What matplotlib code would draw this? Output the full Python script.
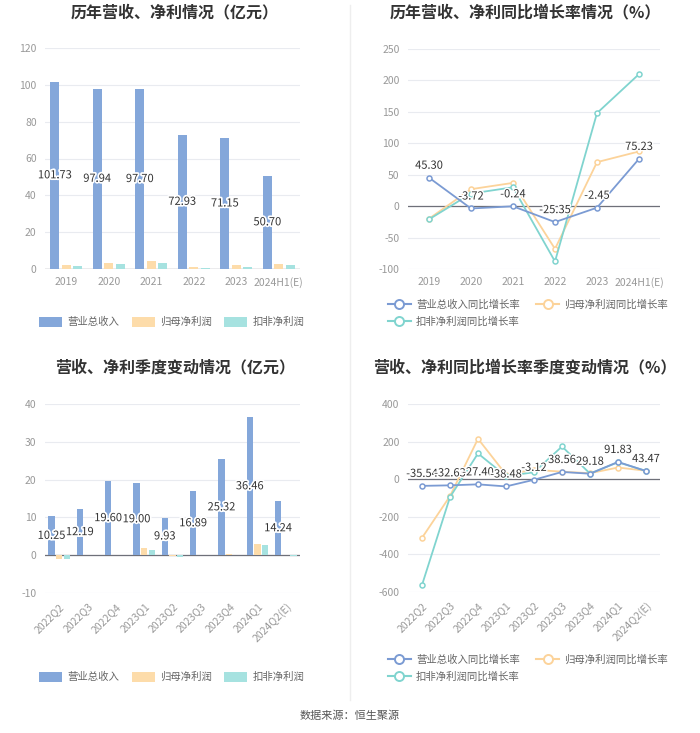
import numpy as np
import matplotlib.pyplot as plt
from matplotlib.lines import Line2D
from matplotlib.patches import Patch
import matplotlib.patheffects as pe

plt.rcParams['font.family'] = ['Noto Sans CJK SC', 'DejaVu Sans']
plt.rcParams['axes.unicode_minus'] = False

# 年度数据
years = ["2019", "2020", "2021", "2022", "2023", "2024H1(E)"]
rev_year = [101.73, 97.94, 97.70, 72.93, 71.15, 50.70]
np_year = [2.3, 3.0, 4.2, 1.2, 2.0, 2.9]
dnp_year = [1.9, 2.5, 3.2, 0.4, 1.1, 2.3]

rev_yoy = [45.30, -3.72, -0.24, -25.35, -2.45, 75.23]
np_yoy = [-20, 27, 37, -68, 70, 87]
dnp_yoy = [-21, 20, 30, -88, 148, 210]

# 季度数据
quarters = ["2022Q2", "2022Q3", "2022Q4", "2023Q1", "2023Q2", "2023Q3", "2023Q4", "2024Q1", "2024Q2(E)"]
rev_q = [10.25, 12.19, 19.60, 19.00, 9.93, 16.89, 25.32, 36.46, 14.24]
np_q = [-1.0, 0.05, 0.1, 2.0, -0.2, 0.05, 0.3, 3.0, 0.1]
dnp_q = [-0.9, 0.02, 0.1, 1.3, -0.6, 0.02, 0.1, 2.6, -0.3]

rev_q_yoy = [-35.54, -32.63, -27.40, -38.48, -3.12, 38.56, 29.18, 91.83, 43.47]
np_q_yoy = [-312, -90, 215, 25, 50, 40, 32, 62, 45]
dnp_q_yoy = [-563, -95, 137, 16, 37, 174, 30, 90, 44]

C_BAR = ["#84a7da", "#fddcaa", "#a6e2e0"]
C_LINE = ["#7b9bd3", "#fcd39a", "#80d4cf"]
GRID = "#e9ebf0"
TICK = "#999999"
AXIS = "#6e7079"

W, H = 700, 733
fig = plt.figure(figsize=(7, 7.33), dpi=100)


def add_ax(x0, x1, y0, y1):
    return fig.add_axes([x0 / W, 1 - y1 / H, (x1 - x0) / W, (y1 - y0) / H])


def style(ax, ylim, yticks, cats, rot=0):
    ax.set_ylim(*ylim)
    ax.set_yticks(yticks)
    ax.set_xlim(-0.5, len(cats) - 0.5)
    ax.set_xticks(range(len(cats)))
    for s in ax.spines.values():
        s.set_visible(False)
    ax.grid(axis="y", color=GRID, lw=0.8)
    ax.set_axisbelow(True)
    ax.axhline(0, color=AXIS, lw=0.9, zorder=1)
    ax.tick_params(length=0, labelsize=7.5, colors=TICK, pad=6)
    if rot:
        ax.set_xticklabels(cats, rotation=45, ha="right", rotation_mode="anchor")
    else:
        ax.set_xticklabels(cats)


def bar_chart(ax, cats, a, b, c):
    x = np.arange(len(cats))
    w, off = 0.22, 0.27
    ax.bar(x - off, a, w, color=C_BAR[0], zorder=2)
    ax.bar(x, b, w, color=C_BAR[1], zorder=2)
    ax.bar(x + off, c, w, color=C_BAR[2], zorder=2)
    for xi, v in zip(x, a):
        ax.text(xi - off, v / 2, f"{v:.2f}", ha="center", va="center", fontsize=8,
                color="#333333", zorder=5,
                path_effects=[pe.withStroke(linewidth=2.5, foreground="white")])


def line_chart(ax, cats, a, b, c):
    x = np.arange(len(cats))
    for ys, col, z in [(b, C_LINE[1], 3), (c, C_LINE[2], 4), (a, C_LINE[0], 5)]:
        ax.plot(x, ys, color=col, lw=1.3, marker="o", ms=3.6, mfc="white",
                mec=col, mew=1.1, zorder=z)
    for xi, v in zip(x, a):
        ax.annotate(f"{v:.2f}", (xi, v), xytext=(0, 5), textcoords="offset points",
                    ha="center", va="bottom", fontsize=8, color="#333333", zorder=6,
                    path_effects=[pe.withStroke(linewidth=2, foreground="white")])


# 左上
ax1 = add_ax(45, 300, 48, 269)
bar_chart(ax1, years, rev_year, np_year, dnp_year)
style(ax1, (0, 120), range(0, 121, 20), years)

# 右上
ax2 = add_ax(408, 660, 49, 269)
line_chart(ax2, years, rev_yoy, np_yoy, dnp_yoy)
style(ax2, (-100, 250), range(-100, 251, 50), years)

# 左下
ax3 = add_ax(45, 300, 404, 593)
bar_chart(ax3, quarters, rev_q, np_q, dnp_q)
style(ax3, (-10, 40), range(-10, 41, 10), quarters, rot=45)

# 右下
ax4 = add_ax(408, 660, 404, 592)
line_chart(ax4, quarters, rev_q_yoy, np_q_yoy, dnp_q_yoy)
style(ax4, (-600, 400), range(-600, 401, 200), quarters, rot=45)

# 标题
titles = [("历年营收、净利情况（亿元）", 175, 12),
          ("历年营收、净利同比增长率情况（%）", 525, 12),
          ("营收、净利季度变动情况（亿元）", 175, 367),
          ("营收、净利同比增长率季度变动情况（%）", 525, 367)]
for t, x, y in titles:
    fig.text(x / W, 1 - y / H, t, ha="center", va="center", fontsize=11.5,
             fontweight="bold", color="#333333")

# 图例
bar_names = ["营业总收入", "归母净利润", "扣非净利润"]
line_names = ["营业总收入同比增长率", "归母净利润同比增长率", "扣非净利润同比增长率"]
bar_h = [Patch(facecolor=c, edgecolor="none") for c in C_BAR]
line_h = [Line2D([], [], color=c, lw=1.5, marker="o", ms=6.5, mfc="white", mec=c, mew=1.4)
          for c in C_LINE]

for yy in (322, 677):
    fig.legend(bar_h, bar_names, loc="center", bbox_to_anchor=(172 / W, 1 - yy / H),
               ncol=3, frameon=False, fontsize=7.5, labelcolor="#666666",
               handlelength=2.2, handleheight=1.1, columnspacing=1.2, handletextpad=0.5)
for yy in (313, 668):
    fig.legend([line_h[0], line_h[2], line_h[1]],
               [line_names[0], line_names[2], line_names[1]],
               loc="center", bbox_to_anchor=(528 / W, 1 - yy / H),
               ncol=2, frameon=False, fontsize=7.5, labelcolor="#666666",
               handlelength=2.2, columnspacing=1.6, handletextpad=0.5,
               labelspacing=0.6)

# 分隔线
fig.add_artist(Line2D([350 / W, 350 / W], [1 - 5 / H, 1 - 700 / H], color="#eeeeee", lw=1))

fig.text(350 / W, 1 - 716 / H, "数据来源：恒生聚源", ha="center", va="center",
         fontsize=8, color="#555555")

fig.savefig("out.png", dpi=100, facecolor="white")
